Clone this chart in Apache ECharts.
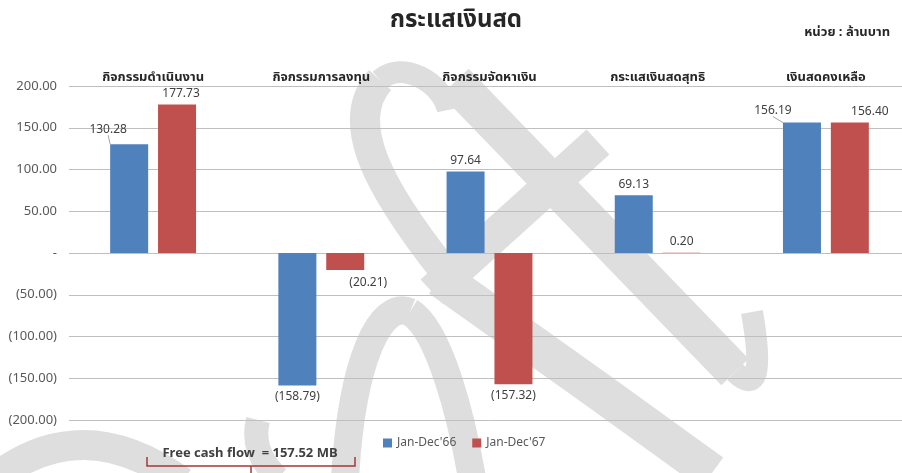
<!DOCTYPE html>
<html>
<head>
<meta charset="utf-8">
<script src="https://cdn.jsdelivr.net/npm/echarts@6/dist/echarts.min.js"></script>
<style>
  html, body { margin: 0; padding: 0; background: #fff; overflow: hidden; }
  #chart1 { width: 912px; height: 473px; }
</style>
</head>
<body>
<div id="chart1"></div>
<script>
// ข้อมูลกระแสเงินสด (ล้านบาท)
var categories = ['กิจกรรมดำเนินงาน', 'กิจกรรมการลงทุน', 'กิจกรรมจัดหาเงิน', 'กระแสเงินสดสุทธิ', 'เงินสดคงเหลือ'];
var seriesNames = ["Jan-Dec'66", "Jan-Dec'67"];
var values66 = [130.28, -158.79, 97.64, 69.13, 156.19];
var values67 = [177.73, -20.21, -157.32, 0.20, 156.40];
var yTicks = [-200, -150, -100, -50, 0, 50, 100, 150, 200];

var fontMain = "'Noto Sans', 'Noto Sans Thai', sans-serif";

// free cash flow = ดำเนินงาน + ลงทุน (ปี 67)
var freeCashFlow = values67[0] + values67[1];

function fmt(v) {
    if (v === 0) return '-';
    var s = Math.abs(v).toFixed(2);
    return v < 0 ? '(' + s + ')' : s;
}

// เลื่อนป้ายบางตัวให้เหมือนต้นฉบับ
var labelShift = {
    '0-0': {dx: -21, dy: -4, line: true},
    '0-4': {dx: -29, dy: -1, line: true},
    '1-0': {dx: 4, dy: 0},
    '1-4': {dx: 20, dy: 0},
    '1-1': {dx: 23, dy: 2}
};

function buildData(idx, arr) {
    return arr.map(function (v, i) {
        var s = labelShift[idx + '-' + i];
        return {
            value: v,
            label: {position: v < 0 ? 'bottom' : 'top'},
            labelLine: {show: !!(s && s.line)}
        };
    });
}

function seriesOf(idx, arr, color) {
    return {
        name: seriesNames[idx],
        type: 'bar',
        barWidth: 38,
        barGap: '26%',
        data: buildData(idx, arr),
        itemStyle: {color: color},
        label: {
            show: true,
            distance: 5,
            fontSize: 12,
            color: '#404040',
            fontFamily: fontMain,
            formatter: function (p) { return fmt(p.value); }
        },
        labelLine: {lineStyle: {color: '#a6a6a6', width: 1}},
        labelLayout: function (p) {
            var s = labelShift[idx + '-' + p.dataIndex];
            if (!s) return {};
            return {dx: s.dx, dy: s.dy};
        }
    };
}

// ลายน้ำสีเทา (ประมาณรูปทรง)
var wm = '#dedede';
function wmLine(pts, w) {
    return {type: 'polyline', z: -10, silent: true,
        shape: {points: pts},
        style: {stroke: wm, lineWidth: w, fill: null}};
}
function wmCurve(s, w) {
    return {type: 'bezierCurve', z: -10, silent: true,
        shape: s,
        style: {stroke: wm, lineWidth: w, fill: null}};
}
var wmGraphics = [
    wmLine([[455, 82], [735, 372]], 38),
    wmCurve({x1: 735, y1: 372, cpx1: 768, cpy1: 404, x2: 752, y2: 312}, 22),
    wmLine([[598, 142], [432, 292]], 34),
    wmCurve({x1: 445, y1: 272, cpx1: 380, cpy1: 190, cpx2: 342, cpy2: 122, x2: 380, y2: 80}, 30),
    wmCurve({x1: 380, y1: 80, cpx1: 402, cpy1: 60, cpx2: 442, cpy2: 82, x2: 448, y2: 110}, 22),
    wmLine([[440, 278], [600, 392], [712, 473]], 38),
    wmCurve({x1: 345, y1: 478, cpx1: 352, cpy1: 360, cpx2: 380, cpy2: 300, x2: 410, y2: 312}, 28),
    wmCurve({x1: 410, y1: 312, cpx1: 440, cpy1: 330, cpx2: 462, cpy2: 420, x2: 472, y2: 478}, 28),
    wmCurve({x1: -10, y1: 482, cpx1: 80, cpy1: 408, x2: 182, y2: 482}, 30),
    wmCurve({x1: 258, y1: 420, cpx1: 250, cpy1: 452, x2: 278, y2: 478}, 24)
];

var myChart = echarts.init(document.getElementById('chart1'));
var option = {
    backgroundColor: '#fff',
    textStyle: {fontFamily: fontMain},
    title: {
        text: 'กระแสเงินสด',
        left: 451,
        textAlign: 'center',
        top: 3,
        textStyle: {fontSize: 24, fontWeight: 'bold', color: '#262626', fontFamily: fontMain}
    },
    legend: {
        left: 378,
        top: 432,
        icon: 'rect',
        itemWidth: 9,
        itemHeight: 9,
        itemGap: 16,
        textStyle: {fontSize: 12, color: '#595959', fontFamily: fontMain},
        data: seriesNames
    },
    grid: {left: 69, right: 2, top: 86, bottom: 53},
    xAxis: {
        type: 'category',
        position: 'top',
        data: categories,
        axisLine: {show: false, onZero: false},
        axisTick: {show: false},
        axisLabel: {
            margin: 2,
            fontSize: 13,
            fontWeight: 'bold',
            color: '#262626',
            fontFamily: fontMain
        }
    },
    yAxis: {
        type: 'value',
        min: yTicks[0],
        max: yTicks[yTicks.length - 1],
        interval: 50,
        axisLine: {show: false},
        axisTick: {show: false},
        axisLabel: {
            margin: 12,
            fontSize: 13,
            color: '#595959',
            fontFamily: fontMain,
            formatter: fmt
        },
        splitLine: {lineStyle: {color: '#bfbfbf', width: 1}}
    },
    graphic: wmGraphics.concat([
        {
            type: 'text',
            right: 22,
            top: 26,
            style: {text: 'หน่วย : ล้านบาท', font: 'bold 13px ' + fontMain, fill: '#262626'}
        },
        {
            type: 'text',
            x: 250,
            y: 453,
            style: {
                text: 'Free cash flow  = ' + freeCashFlow.toFixed(2) + ' MB',
                font: 'bold 13px ' + fontMain,
                fill: '#404040',
                align: 'center',
                verticalAlign: 'middle'
            }
        },
        {
            type: 'polyline',
            shape: {points: [[147, 457], [147, 466], [355, 466], [355, 457]]},
            style: {stroke: '#a5373a', lineWidth: 1.5, fill: null}
        },
        {
            type: 'line',
            shape: {x1: 251, y1: 466, x2: 251, y2: 474},
            style: {stroke: '#a5373a', lineWidth: 1.5}
        }
    ]),
    series: [
        seriesOf(0, values66, '#4f81bd'),
        seriesOf(1, values67, '#c0504d')
    ]
};
myChart.setOption(option);
</script>
</body>
</html>
